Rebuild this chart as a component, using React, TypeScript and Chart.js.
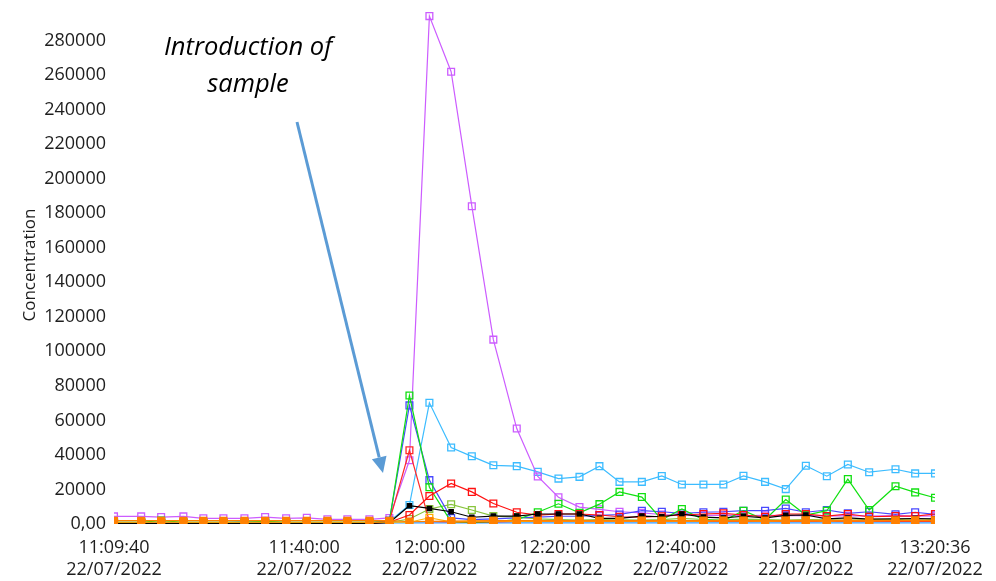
import React, { useEffect, useRef } from 'react';
import { Chart, registerables } from 'chart.js';

Chart.register(...registerables);

// ---- data ----
const sampleTimes = [
  '11:09:40', '11:14:00', '11:17:11', '11:20:44', '11:23:55', '11:27:07', '11:30:28', '11:33:46', '11:37:07', '11:40:25',
  '11:43:42', '11:46:53', '11:50:24', '11:53:35', '11:56:47', '11:59:58', '12:03:26', '12:06:44', '12:10:10', '12:13:54',
  '12:17:15', '12:20:33', '12:23:54', '12:27:05', '12:30:17', '12:33:51', '12:37:02', '12:40:14', '12:43:40', '12:46:51',
  '12:50:03', '12:53:30', '12:56:48', '13:00:00', '13:03:21', '13:06:42', '13:10:06', '13:14:18', '13:17:26', '13:20:36',
];

const xTickTimes = ['11:09:40', '11:40:00', '12:00:00', '12:20:00', '12:40:00', '13:00:00', '13:20:36'];
const dateLabel = '22/07/2022';
const yTickValues = [0, 20000, 40000, 60000, 80000, 100000, 120000, 140000, 160000, 180000, 200000, 220000, 240000, 260000, 280000];

const violet = [4400, 4400, 4000, 4400, 3300, 3300, 3300, 4000, 3300, 3600, 2700, 2700, 2700, 3500,
  36900, 294200, 262000, 184100, 106800, 55300, 27500, 15500, 9800, 8500,
  7100, 6500, 5500, 5200, 5000, 5000, 4800, 5000, 4800, 5000,
  4600, 4800, 4600, 4800, 4600, 4700];

const lightBlue = [900, 900, 900, 900, 900, 900, 1500, 1500, 900, 900, 900, 900, 900, 1500,
  11000, 70200, 44300, 39200, 34000, 33500, 30200, 26300, 27300, 33500,
  24400, 24400, 27800, 22900, 22900, 22900, 27900, 24400, 20200, 33700,
  27700, 34500, 30000, 31700, 29300, 29300];

const green = [1000, 1000, 2000, 1000, 1000, 1000, 1000, 1500, 1000, 1000, 1000, 1000, 1000, 1500,
  74400, 21300, 1200, 800, 1200, 2500, 6800, 11700, 6500, 11500,
  18600, 15600, 2500, 8700, 2500, 1800, 7700, 2500, 14200, 5200,
  7700, 26000, 8100, 21900, 18300, 15200];

const blue = [700, 700, 700, 700, 700, 700, 700, 700, 700, 700, 700, 700, 700, 2000,
  68700, 25400, 3500, 2500, 3000, 3500, 4000, 4500, 4500, 5000,
  5500, 7700, 7100, 6200, 6800, 7100, 7700, 7700, 9000, 6800,
  8100, 6200, 7100, 5600, 6800, 5600];

const redA = [500, 500, 500, 500, 500, 500, 500, 500, 500, 500, 500, 500, 500, 1500,
  42700, 1500, 1200, 1200, 1200, 1500, 1500, 1500, 1500, 1500,
  1500, 1500, 1500, 1500, 1500, 1500, 1500, 1500, 1500, 1500,
  1500, 1500, 1500, 1500, 1500, 1500];

const redB = [300, 300, 300, 300, 300, 300, 300, 300, 300, 300, 300, 300, 300, 1000,
  5200, 16200, 23500, 18600, 11900, 6800, 5200, 5800, 5800, 5200,
  4200, 3900, 4500, 5200, 5800, 6200, 5200, 4200, 5800, 5800,
  4600, 5800, 4200, 4600, 4600, 5800];

const black = [300, 300, 300, 300, 300, 300, 300, 300, 300, 300, 300, 300, 300, 800,
  10600, 9000, 7100, 3900, 4600, 4600, 5800, 5800, 5800, 3300,
  3300, 4600, 4200, 5800, 4000, 3500, 4500, 3500, 5000, 5200,
  3000, 3500, 2800, 3000, 3200, 3000];

const yellowGreen = [800, 800, 800, 800, 800, 800, 800, 800, 800, 800, 800, 800, 800, 900,
  2900, 8700, 11400, 8100, 4600, 4000, 3000, 2500, 2200, 2500,
  2400, 2300, 2500, 3200, 2600, 2400, 2800, 2500, 2300, 2600,
  2400, 2200, 2500, 2700, 2300, 2500];

const amber = [1000, 1000, 1000, 1000, 1000, 1000, 1000, 1000, 1000, 1000, 1000, 1000, 1000, 1000,
  1000, 3600, 1200, 1500, 1800, 1500, 1700, 1800, 1600, 1800,
  1700, 1800, 1600, 1800, 1700, 1900, 1800, 1700, 1800, 1900,
  1700, 2000, 1800, 1900, 2000, 2000];

const orange = [1900, 1900, 1900, 1900, 1900, 1900, 1900, 1900, 1900, 1900, 1900, 1900, 1900, 1900,
  1300, 1500, 1700, 1800, 1900, 1900, 1900, 1900, 1900, 1900,
  2000, 2000, 2000, 2000, 2000, 2000, 2000, 2000, 2000, 2100,
  2100, 2100, 2100, 2100, 2100, 2100];

const dodger = [700, 700, 700, 700, 700, 700, 700, 700, 700, 700, 700, 700, 700, 700,
  700, 700, 700, 700, 700, 700, 700, 700, 700, 700,
  700, 700, 700, 700, 700, 700, 700, 700, 700, 700,
  700, 700, 700, 700, 700, 700];

// ---- helpers ----
const toSec = (t: string) => {
  const [h, m, s] = t.split(':').map(Number);
  return h * 3600 + m * 60 + s;
};
const pad = (n: number) => String(n).padStart(2, '0');
const fmtSec = (v: number) => {
  const h = Math.floor(v / 3600);
  const m = Math.floor((v % 3600) / 60);
  const s = Math.round(v % 60);
  return `${pad(h)}:${pad(m)}:${pad(s)}`;
};

const FONT = '"Open Sans", "DejaVu Sans", sans-serif';
const TEXT = '#1e1e1e';

function series(label: string, values: number[], color: string, filled = false, radius = 4.8) {
  return {
    label,
    data: sampleTimes.map((t, i) => ({ x: toSec(t), y: values[i] })),
    borderColor: color,
    backgroundColor: filled ? color : 'rgba(0,0,0,0)',
    pointBackgroundColor: filled ? color : 'rgba(0,0,0,0)',
    pointBorderColor: color,
    pointStyle: 'rect',
    pointRadius: radius,
    pointBorderWidth: 1.3,
    borderWidth: 1.2,
    tension: 0,
    fill: false,
  };
}

const annotationPlugin = {
  id: 'introAnnotation',
  afterDraw(chart: any) {
    const ctx = chart.ctx as CanvasRenderingContext2D;
    ctx.save();
    ctx.fillStyle = '#000000';
    ctx.font = `italic 25.5px ${FONT}`;
    ctx.textAlign = 'center';
    ctx.textBaseline = 'middle';
    ctx.fillText('Introduction of', 248, 48);
    ctx.fillText('sample', 248, 85);

    const x0 = 297, y0 = 122, x1 = 383, y1 = 473;
    const ang = Math.atan2(y1 - y0, x1 - x0);
    const headLen = 16, headW = 7.5;
    const bx = x1 - headLen * Math.cos(ang);
    const by = y1 - headLen * Math.sin(ang);
    ctx.strokeStyle = '#5b9bd5';
    ctx.fillStyle = '#5b9bd5';
    ctx.lineWidth = 3;
    ctx.beginPath();
    ctx.moveTo(x0, y0);
    ctx.lineTo(bx, by);
    ctx.stroke();
    ctx.beginPath();
    ctx.moveTo(x1, y1);
    ctx.lineTo(bx + headW * Math.sin(ang), by - headW * Math.cos(ang));
    ctx.lineTo(bx - headW * Math.sin(ang), by + headW * Math.cos(ang));
    ctx.closePath();
    ctx.fill();
    ctx.restore();
  },
};

export default function App() {
  const canvasRef = useRef<HTMLCanvasElement | null>(null);

  useEffect(() => {
    if (!canvasRef.current) return;
    const chart = new Chart(canvasRef.current, {
      type: 'line',
      data: {
        datasets: [
          series('Orange', orange, '#ff8000', true, 4.8),
          series('Amber', amber, '#ffb000'),
          series('Black', black, '#000000', true, 3.0),
          series('Red B', redB, '#ff1010'),
          series('Red A', redA, '#ff2a2a'),
          series('Green', green, '#10e010'),
          series('Blue', blue, '#4848ff'),
          series('Violet', violet, '#cc5cff'),
          series('Yellow green', yellowGreen, '#88c43c'),
          series('Light blue', lightBlue, '#3cbcff'),
          series('Dodger blue', dodger, '#3399ff', false, 0),
        ] as any,
      },
      options: {
        responsive: false,
        animation: false,
        layout: { padding: { top: 4, right: 61, left: 0, bottom: 0 } },
        plugins: {
          legend: { display: false },
          tooltip: { enabled: false },
        },
        scales: {
          x: {
            type: 'linear',
            min: toSec(xTickTimes[0]),
            max: toSec(xTickTimes[xTickTimes.length - 1]),
            grid: { display: false, drawTicks: false },
            border: { display: false },
            afterBuildTicks: (scale: any) => {
              scale.ticks = xTickTimes.map((t) => ({ value: toSec(t) }));
            },
            afterFit: (scale: any) => {
              scale.height = 57;
              scale.paddingLeft = 0;
              scale.paddingRight = 0;
            },
            ticks: {
              autoSkip: false,
              maxRotation: 0,
              padding: 13,
              color: TEXT,
              font: { family: FONT, size: 18 },
              callback: (v: any) => [fmtSec(Number(v)), dateLabel],
            },
          },
          y: {
            type: 'linear',
            min: 0,
            max: 300000,
            grid: { display: false, drawTicks: false },
            border: { display: false },
            afterBuildTicks: (scale: any) => {
              scale.ticks = yTickValues.map((v) => ({ value: v }));
            },
            afterFit: (scale: any) => {
              scale.width = 114;
              scale.paddingTop = 0;
              scale.paddingBottom = 0;
            },
            ticks: {
              padding: 8,
              color: TEXT,
              font: { family: FONT, size: 18 },
              callback: (v: any) => (Number(v) === 0 ? '0,00' : String(v)),
            },
            title: {
              display: true,
              text: 'Concentration',
              color: TEXT,
              font: { family: FONT, size: 17 },
              padding: { top: 20, bottom: 0 },
            },
          },
        },
      } as any,
      plugins: [annotationPlugin],
    });
    return () => chart.destroy();
  }, []);

  return (
    <div style={{ position: 'fixed', left: 0, top: 0, width: 996, height: 581, background: '#ffffff' }}>
      <canvas ref={canvasRef} width={996} height={581} style={{ display: 'block' }} />
    </div>
  );
}
